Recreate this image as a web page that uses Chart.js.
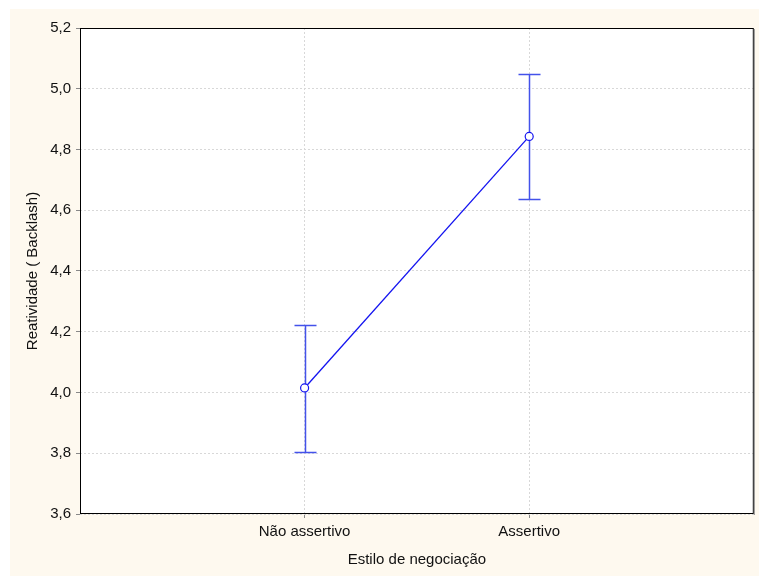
<!DOCTYPE html>
<html>
<head>
<meta charset="utf-8">
<script src="https://cdn.jsdelivr.net/npm/chart.js@4/dist/chart.umd.min.js"></script>
<style>
  html, body { margin: 0; padding: 0; background: #ffffff; }
  #wrap { width: 759px; height: 576px; position: relative; }
</style>
</head>
<body>
<div id="wrap"><canvas id="chart" width="759" height="576"></canvas></div>
<script>
const categories = ['Não assertivo', 'Assertivo'];
const catPos = [1, 2];
const means = [4.015, 4.843];
const lower = [3.805, 4.636];
const upper = [4.222, 5.049];
const yTicks = [3.6, 3.8, 4.0, 4.2, 4.4, 4.6, 4.8, 5.0, 5.2];

// cream page + white plot area + border
const backdrop = {
    id: 'backdrop',
    beforeDraw(chart) {
        const c = chart.ctx;
        const a = chart.chartArea;
        c.save();
        c.fillStyle = '#FEF9EF';
        c.fillRect(10, 9, chart.width - 10, chart.height - 9);
        c.fillStyle = '#ffffff';
        c.fillRect(a.left, a.top, a.right - a.left, a.bottom - a.top);
        c.restore();
    },
    afterDraw(chart) {
        const c = chart.ctx;
        const a = chart.chartArea;
        c.save();
        c.setLineDash([]);
        c.strokeStyle = '#000000';
        c.lineWidth = 1;
        c.strokeRect(a.left + 0.5, a.top + 0.5, a.right - a.left - 1, a.bottom - a.top - 1);
        c.strokeStyle = '#888888';
        c.beginPath();
        c.moveTo(a.right + 0.5, a.top + 1);
        c.lineTo(a.right + 0.5, a.bottom + 1);
        c.stroke();
        c.restore();
    }
};

// vertical error bars with caps
const errorBars = {
    id: 'errorBars',
    beforeDatasetsDraw(chart) {
        const c = chart.ctx;
        const xs = chart.scales.x;
        const ys = chart.scales.y;
        c.save();
        c.setLineDash([]);
        c.strokeStyle = '#4352EA';
        c.lineWidth = 1.5;
        for (let i = 0; i < catPos.length; i++) {
            const x = Math.round(xs.getPixelForValue(catPos[i])) + 0.5;
            const yl = Math.round(ys.getPixelForValue(lower[i])) + 0.5;
            const yu = Math.round(ys.getPixelForValue(upper[i])) + 0.5;
            c.beginPath();
            c.moveTo(x, yl); c.lineTo(x, yu);
            c.moveTo(x - 11, yl); c.lineTo(x + 11, yl);
            c.moveTo(x - 11, yu); c.lineTo(x + 11, yu);
            c.stroke();
        }
        c.restore();
    }
};

new Chart(document.getElementById('chart'), {
    type: 'line',
    data: {
        datasets: [{
            data: catPos.map((x, i) => ({ x: x, y: means[i] })),
            borderColor: '#1414F0',
            borderWidth: 1.3,
            pointRadius: 4,
            pointBorderWidth: 1.2,
            pointBackgroundColor: '#ffffff',
            pointBorderColor: '#1414F0',
            tension: 0
        }]
    },
    options: {
        responsive: false,
        animation: false,
        layout: { padding: { left: 10, top: 28, right: 2, bottom: 0 } },
        plugins: { legend: { display: false }, tooltip: { enabled: false } },
        scales: {
            x: {
                type: 'linear',
                min: 0,
                max: 3,
                afterBuildTicks(axis) { axis.ticks = catPos.map(v => ({ value: v })); },
                afterFit(axis) { axis.height = 62; },
                border: { display: false, dash: [2, 2] },
                grid: {
                    color: '#D8D8D8',
                    tickColor: '#888888',
                    tickLength: 4
                },
                ticks: {
                    color: '#111111',
                    font: { family: 'Liberation Sans', size: 15 },
                    padding: 5,
                    maxRotation: 0,
                    callback(v) { return categories[catPos.indexOf(v)]; }
                },
                title: {
                    display: true,
                    text: 'Estilo de negociação',
                    color: '#111111',
                    font: { family: 'Liberation Sans', size: 15 },
                    padding: { top: 0, bottom: 7 }
                }
            },
            y: {
                min: 3.6,
                max: 5.2,
                afterBuildTicks(axis) { axis.ticks = yTicks.map(v => ({ value: v })); },
                afterFit(axis) { axis.width = 70; },
                border: { display: false, dash: [2, 2] },
                grid: {
                    color: '#D8D8D8',
                    tickColor: '#888888',
                    tickLength: 4
                },
                ticks: {
                    color: '#111111',
                    font: { family: 'Liberation Sans', size: 15 },
                    padding: 5,
                    callback(v) { return v.toFixed(1).replace('.', ','); }
                },
                title: {
                    display: true,
                    text: 'Reatividade ( Backlash)',
                    color: '#111111',
                    font: { family: 'Liberation Sans', size: 15 },
                    padding: { top: 14, bottom: 0 }
                }
            }
        }
    },
    plugins: [backdrop, errorBars]
});
</script>
</body>
</html>
